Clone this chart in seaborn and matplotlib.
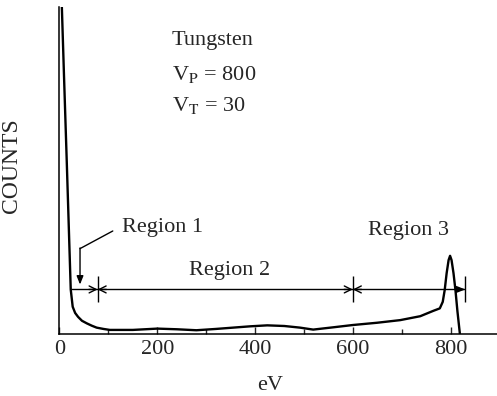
import numpy as np
import seaborn as sns
import matplotlib.pyplot as plt
from matplotlib.ticker import MultipleLocator

# Spectrum (energy in eV, counts in arbitrary units, axis top = 100)
energy = [4, 9, 15, 23, 27, 32, 38, 46, 56, 66, 76, 90, 103, 150, 200, 240, 280,
          320, 355, 390, 425, 460, 492, 519, 560, 600, 650, 697, 738, 764, 778,
          784, 788, 792, 796, 799, 802, 806, 810, 814, 819]
counts = [104, 80, 52, 13.5, 8.2, 6.3, 5.1, 3.9, 3.1, 2.4, 1.8, 1.4, 1.1, 1.1, 1.5,
          1.3, 1.0, 1.4, 1.8, 2.2, 2.5, 2.3, 1.8, 1.2, 1.9, 2.6, 3.3, 4.1, 5.3, 6.9,
          7.7, 9.7, 13.3, 18.5, 22.5, 23.8, 22.5, 18.5, 13.3, 6.9, 0]

region_edges = [23, 78, 600, 830]
region_level = 13.5
region_labels = ['Region 1', 'Region 2', 'Region 3']
region_label_pos = [(128, 32.4), (265, 19.2), (631, 31.4)]

info_lines = ['Tungsten', r'V$_\mathrm{P}$ = 800', r'V$_\mathrm{T}$ = 30']
info_y = [89.6, 79.4, 69.9]
info_x = 230

sns.set_style('white')
plt.rcParams['font.family'] = ['Liberation Serif', 'DejaVu Serif']
plt.rcParams['mathtext.fontset'] = 'stix'

fig = plt.figure(figsize=(4.97, 3.96), dpi=100)
ax = fig.add_axes([0.1197, 0.1578, 0.8803, 0.8245])

sns.lineplot(x=energy, y=counts, sort=False, color='black', lw=1.7, ax=ax)

ax.set_xlim(0, 895)
ax.set_ylim(0, 100)

# region dimension line
ax.hlines(region_level, region_edges[0], region_edges[-1], color='black', lw=1.0)
for x in region_edges[1:]:
    ax.vlines(x, region_level - 4, region_level + 4, color='black', lw=1.0)
for x in region_edges[1:3]:
    for tail in (x - 18, x + 18):
        ax.annotate('', xy=(x, region_level), xytext=(tail, region_level),
                    arrowprops=dict(arrowstyle='->,head_length=0.5,head_width=0.25',
                                    color='black', lw=1.0, shrinkA=0, shrinkB=0))
ax.annotate('', xy=(region_edges[-1], region_level),
            xytext=(region_edges[-1] - 20, region_level),
            arrowprops=dict(arrowstyle='-|>,head_length=0.5,head_width=0.2',
                            color='black', lw=1.0, shrinkA=0, shrinkB=0))

# Region 1 callout
ax.plot([109, 42], [31.4, 26], color='black', lw=1.0)
ax.annotate('', xy=(42, 15), xytext=(42, 26.2),
            arrowprops=dict(arrowstyle='-|>,head_length=0.5,head_width=0.2',
                            color='black', lw=1.0, shrinkA=0, shrinkB=0))

for label, (x, y) in zip(region_labels, region_label_pos):
    ax.text(x, y, label, fontsize=16, ha='left', va='center')

for line, y in zip(info_lines, info_y):
    ax.text(info_x, y, line, fontsize=16, ha='left', va='center')

ax.xaxis.set_major_locator(MultipleLocator(200))
ax.xaxis.set_minor_locator(MultipleLocator(100))
ax.tick_params(axis='x', which='major', direction='in', length=5, width=1.0,
               labelsize=16, pad=5, bottom=True)
ax.tick_params(axis='x', which='minor', direction='in', length=3.5, width=1.0, bottom=True)
ax.set_yticks([])

for side in ('top', 'right'):
    ax.spines[side].set_visible(False)
for side in ('left', 'bottom'):
    ax.spines[side].set_color('black')
    ax.spines[side].set_linewidth(1.1)

ax.set_xlabel('eV', fontsize=16)
ax.set_ylabel('COUNTS', fontsize=17)
ax.xaxis.set_label_coords(0.481, -0.13)
ax.yaxis.set_label_coords(-0.085, 0.515)

fig.savefig('out.png', dpi=100)
